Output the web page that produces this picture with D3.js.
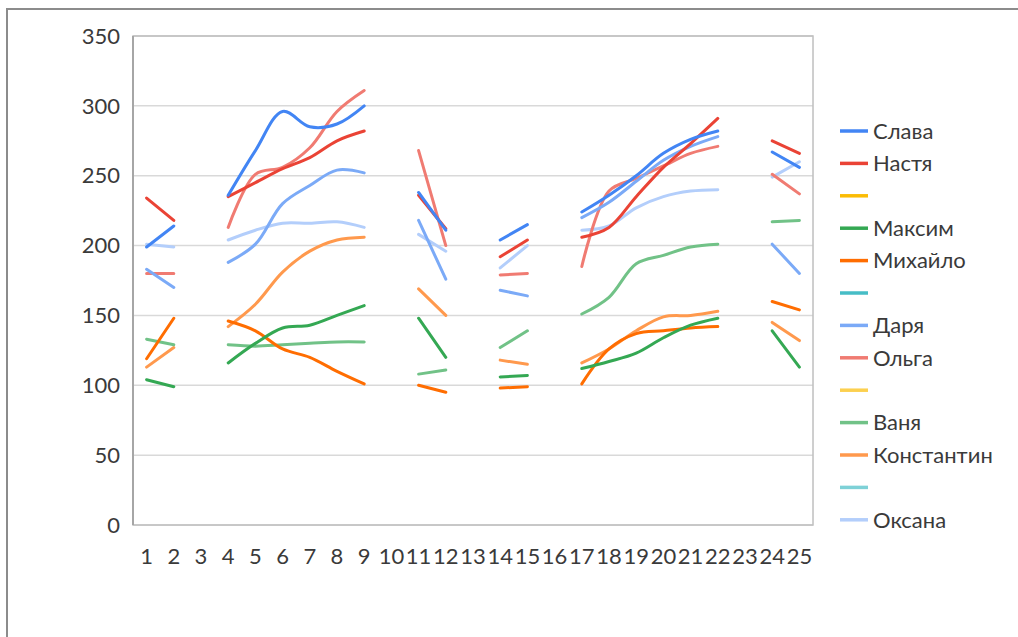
<!DOCTYPE html>
<html>
<head>
<meta charset="utf-8">
<script src="https://cdnjs.cloudflare.com/ajax/libs/d3/7.8.5/d3.min.js"></script>
<style>
  body { margin: 0; background: #fff; }
  text { font-family: Lato, 'Noto Sans', sans-serif; fill: #3a3a3a; }
</style>
</head>
<body>
<div id="viz-container"></div>
<script>
let width = 1018;
let height = 637;

// data, null = gap
let categories = d3.range(1, 26).map(String);
let seriesNames = ['Слава', 'Настя', '', 'Максим', 'Михайло', '', 'Даря', 'Ольга', '', 'Ваня', 'Константин', '', 'Оксана'];
let seriesColors = ['#4285f4', '#ea4335', '#fbbc04', '#34a853', '#ff6d01', '#46bdc6', '#7baaf7', '#f07b72', '#fcd04f', '#71c287', '#ff994d', '#7ed1d7', '#b3cefb'];

let slava = [199, 214, null, 236, 268, 296, 285, 287, 300, null, 238, 211, null, 204, 215, null, 224, 236, 250, 266, 276, 282, null, 267, 256];
let nastya = [234, 218, null, 235, 245, 255, 263, 275, 282, null, 236, 212, null, 192, 204, null, 206, 213, 235, 256, 273, 291, null, 275, 266];
let empty = d3.range(25).map(() => null);
let maksim = [104, 99, null, 116, 130, 141, 143, 150, 157, null, 148, 120, null, 106, 107, null, 112, 117, 123, 134, 143, 148, null, 139, 113];
let mykhailo = [119, 148, null, 146, 139, 126, 120, 110, 101, null, 100, 95, null, 98, 99, null, 101, 126, 137, 139, 141, 142, null, 160, 154];
let darya = [183, 170, null, 188, 201, 230, 243, 254, 252, null, 218, 176, null, 168, 164, null, 220, 231, 246, 261, 271, 278, null, 201, 180];
let olga = [180, 180, null, 213, 251, 256, 270, 296, 311, null, 268, 200, null, 179, 180, null, 185, 239, 248, 257, 266, 271, null, 251, 237];
let vanya = [133, 129, null, 129, 128, 129, 130, 131, 131, null, 108, 111, null, 127, 139, null, 151, 163, 187, 193, 199, 201, null, 217, 218];
let kostyantyn = [113, 127, null, 142, 158, 181, 196, 204, 206, null, 169, 150, null, 118, 115, null, 116, 126, 139, 149, 150, 153, null, 145, 132];
let oksana = [201, 199, null, 204, 211, 216, 216, 217, 213, null, 208, 196, null, 184, 200, null, 211, 214, 227, 235, 239, 240, null, 249, 260];

let seriesValues = [slava, nastya, empty, maksim, mykhailo, empty, darya, olga, empty, vanya, kostyantyn, empty, oksana];
let yTicks = [0, 50, 100, 150, 200, 250, 300, 350];

let plot = {left: 133, right: 813, top: 36, bottom: 525};

let viz = d3.select('#viz-container')
  .append('svg')
  .attr('width', width)
  .attr('height', height);

// outer chart border (only left/top visible)
viz.append('rect')
  .attr('x', 7)
  .attr('y', 9)
  .attr('width', 1100)
  .attr('height', 700)
  .attr('fill', 'white')
  .attr('stroke', '#8c8c8c')
  .attr('stroke-width', 2);

let x = d3.scaleBand().domain(categories).range([plot.left, plot.right]);
let y = d3.scaleLinear().domain([0, 350]).range([plot.bottom, plot.top]);

// gridlines
viz.selectAll('.grid').data(yTicks).enter()
  .append('line')
  .attr('class', 'grid')
  .attr('x1', plot.left)
  .attr('x2', plot.right)
  .attr('y1', d => y(d))
  .attr('y2', d => y(d))
  .attr('stroke', '#d9d9d9')
  .attr('stroke-width', 1.5);

// plot area border
viz.append('rect')
  .attr('x', plot.left)
  .attr('y', plot.top)
  .attr('width', plot.right - plot.left)
  .attr('height', plot.bottom - plot.top)
  .attr('fill', 'none')
  .attr('stroke', '#bfbfbf')
  .attr('stroke-width', 1.5);

viz.append('line')
  .attr('x1', plot.left).attr('x2', plot.left)
  .attr('y1', plot.top).attr('y2', plot.bottom)
  .attr('stroke', '#a6a6a6')
  .attr('stroke-width', 2);

// y labels
viz.selectAll('.ylab').data(yTicks).enter()
  .append('text')
  .attr('class', 'ylab')
  .attr('x', 120)
  .attr('y', d => y(d))
  .attr('dy', '0.35em')
  .attr('text-anchor', 'end')
  .attr('font-size', 22)
  .text(d => d);

// x labels
viz.selectAll('.xlab').data(categories).enter()
  .append('text')
  .attr('class', 'xlab')
  .attr('x', d => x(d) + x.bandwidth() / 2)
  .attr('y', 564)
  .attr('text-anchor', 'middle')
  .attr('font-size', 22)
  .text(d => d);

let line = d3.line()
  .defined(d => d != null)
  .x((d, i) => x(categories[i]) + x.bandwidth() / 2)
  .y(d => y(d))
  .curve(d3.curveCatmullRom.alpha(0.5));

// draw in reverse so Слава ends on top
let order = d3.range(seriesNames.length).reverse();
viz.selectAll('.series').data(order).enter()
  .append('path')
  .attr('class', 'series')
  .attr('d', i => line(seriesValues[i]))
  .attr('fill', 'none')
  .attr('stroke', i => seriesColors[i])
  .attr('stroke-width', 3)
  .attr('stroke-linecap', 'round')
  .attr('stroke-linejoin', 'round');

// legend
let legend = viz.selectAll('.legend').data(seriesNames).enter()
  .append('g')
  .attr('class', 'legend')
  .attr('transform', (d, i) => 'translate(840,' + (131 + i * 32.4) + ')');

legend.append('line')
  .attr('x1', 0)
  .attr('x2', 28)
  .attr('stroke', (d, i) => seriesColors[i])
  .attr('stroke-width', 3.5);

legend.append('text')
  .attr('x', 33)
  .attr('dy', '0.35em')
  .attr('font-size', 22)
  .text(d => d);
</script>
</body>
</html>
